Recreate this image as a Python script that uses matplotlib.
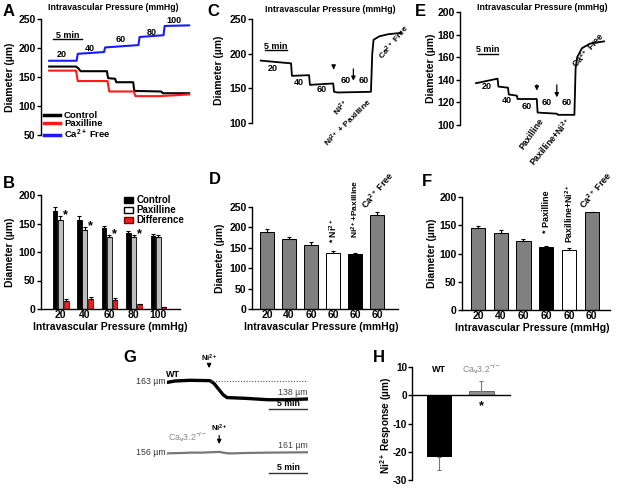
import matplotlib
matplotlib.use("Agg")
import matplotlib.pyplot as plt
from matplotlib.patches import Patch

plt.rcParams["font.family"] = ["Liberation Sans", "DejaVu Sans"]
plt.rcParams["font.weight"] = "bold"
plt.rcParams["axes.labelweight"] = "bold"
plt.rcParams["mathtext.fontset"] = "custom"
plt.rcParams["mathtext.rm"] = "Liberation Sans:bold"
plt.rcParams["mathtext.bf"] = "Liberation Sans:bold"
plt.rcParams["mathtext.it"] = "Liberation Sans:bold:italic"
plt.rcParams["mathtext.default"] = "rm"
plt.rcParams["axes.linewidth"] = 1.0
plt.rcParams["axes.unicode_minus"] = False

# ── data ──────────────────────────────────────────────────────────────────────
# A: pressure steps (time in min, diameter in um)
a_ctrl_t = [0, 4.6, 5.0, 5.4, 9.9, 10.1, 11.3, 11.5, 14.4, 14.6, 19.2, 19.5, 24]
a_ctrl_d = [168, 168, 165, 160, 160, 148, 147, 141, 141, 126, 125, 122, 122]
a_pax_t = [0, 4.6, 4.9, 10.0, 10.3, 14.5, 14.8, 19.0, 24]
a_pax_d = [161, 161, 143, 143, 125, 125, 117, 117, 120]
a_ca_t = [0, 4.7, 4.9, 9.4, 9.6, 15.3, 15.5, 19.6, 19.8, 24]
a_ca_d = [178, 178, 190, 193, 201, 205, 219, 222, 238, 239]
a_press = ["20", "40", "60", "80", "100"]
a_press_t = [2.1, 6.9, 12.2, 17.6, 21.4]
a_press_d = [188, 200, 214, 227, 248]

# B: mean diameters per pressure
b_press = ["20", "40", "60", "80", "100"]
b_ctrl = [172, 157, 142, 133, 128]
b_ctrl_err = [7, 6, 4, 4, 3]
b_pax = [157, 139, 126, 126, 126]
b_pax_err = [6, 5, 4, 4, 3]
b_diff = [14, 17, 16, 8, 3]
b_diff_err = [4, 4, 3, 1.5, 1]
b_sig = [True, True, True, True, False]

# C: trace with Ni2+ then Ni2+ + paxilline
c_t = [0, 6.9, 7.1, 11.0, 11.2, 16.5, 16.7, 17.5, 25.1, 25.4, 25.7, 27.0, 29.0, 32.0]
c_d = [190, 186, 168, 169, 155, 157, 145, 144, 145, 200, 220, 225, 228, 230]
c_press = ["20", "40", "60", "60", "60"]
c_press_t = [2.7, 8.6, 13.9, 19.3, 23.4]
c_press_d = [179, 159, 148, 161, 161]
c_arrow_t = [16.6, 21.1]
c_arrow_top = [184, 182]
c_arrow_tip = [173, 157]

# D: summary for C
d_press = ["20", "40", "60", "60", "60", "60"]
d_vals = [188, 171, 158, 137, 134, 230]
d_err = [8, 6, 5, 5, 4, 7]
d_colors = ["#808080", "#808080", "#808080", "white", "black", "#808080"]

# E: trace with paxilline then paxilline + Ni2+
e_t = [0, 5.4, 5.6, 8.0, 8.2, 10.2, 10.4, 15.2, 15.4, 20.2, 20.5, 24.6, 24.9, 25.3, 26.5, 28.5, 32]
e_d = [137, 141, 134, 133, 127, 126, 123, 123, 111, 110, 109, 109, 150, 160, 168, 172, 174]
e_press = ["20", "40", "60", "60", "60"]
e_press_t = [2.75, 7.75, 12.75, 17.75, 22.75]
e_press_d = [134, 122, 116, 119.5, 119.5]
e_arrow_t = [15.2, 20.2]
e_arrow_top = [138, 138]
e_arrow_tip = [128, 122]

# F: summary for E
f_press = ["20", "40", "60", "60", "60", "60"]
f_vals = [145, 137, 123, 111, 107, 173]
f_err = [4, 5, 2, 2, 2, 1]
f_colors = ["#808080", "#808080", "#808080", "black", "white", "#808080"]

# G: WT and Cav3.2-/- traces
g_wt_t = [0, 1, 3, 5.5, 6.0, 6.6, 7.2, 7.7, 10, 13, 15, 18]
g_wt_d = [161, 163, 164, 163.5, 160, 152, 144, 140, 139, 137, 137, 138]
g_ko_t = [0, 2, 3, 4.5, 5.5, 6.7, 7.2, 7.8, 8.5, 10, 13, 18]
g_ko_d = [155.5, 156, 156.5, 156.5, 157, 157.5, 156.5, 155.5, 155.5, 156, 156.5, 157]

# H: Ni2+ response
h_groups = ["WT", "Ca$_{\\rm v}$3.2$^{-/-}$"]
h_vals = [-22, 1.5]
h_err = [4.5, 3.5]
h_ticks = [-30, -20, -10, 0, 10]

# ── layout helpers (pixel coordinates of the 620x491 figure) ─────────────────
W, H = 620, 491
fig = plt.figure(figsize=(W / 100, H / 100), dpi=100)


def add_ax(l, t, r, b):
    return fig.add_axes([l / W, 1 - b / H, (r - l) / W, (b - t) / H])


def ftext(x, y, s, **kw):
    kw.setdefault("ha", "center")
    kw.setdefault("va", "center")
    fig.text(x / W, 1 - y / H, s, **kw)


def style(ax, bottom=False):
    for side in ["top", "right"]:
        ax.spines[side].set_visible(False)
    ax.spines["bottom"].set_visible(bottom)
    ax.tick_params(axis="y", direction="out", length=3, width=1, labelsize=7.5, pad=1)
    ax.tick_params(axis="x", length=0, labelsize=7.5, pad=1)
    if not bottom:
        ax.set_xticks([])


def arrow(ax, t, top, tip, lw=0.9):
    ax.annotate("", xy=(t, tip), xytext=(t, top), annotation_clip=False,
                arrowprops=dict(arrowstyle="-|>", lw=lw, color="k", mutation_scale=6))


# ── A ────────────────────────────────────────────────────────────────────────
ax = add_ax(41, 19, 195, 135)
style(ax)
ax.plot(a_ctrl_t, a_ctrl_d, color="black", lw=1.5, label="Control")
ax.plot(a_pax_t, a_pax_d, color="#ff1a1a", lw=1.5, label="Paxilline")
ax.plot(a_ca_t, a_ca_d, color="#1a1aff", lw=1.5, label="Ca$^{2+}$ Free")
for s, t, d in zip(a_press, a_press_t, a_press_d):
    ax.text(t, d, s, fontsize=6.5, ha="center", va="center")
ax.plot([0.7, 5.7], [215.5, 215.5], color="black", lw=1)
ax.text(3.2, 221, "5 min", fontsize=6.5, ha="center", va="center")
ax.set_xlim(-1.4, 25)
ax.set_ylim(50, 250)
ax.set_yticks([50, 100, 150, 200, 250])
ax.legend(loc="lower left", bbox_to_anchor=(0.02, -0.05), frameon=False, fontsize=6.8,
          handlelength=1.7, labelspacing=-0.08, handletextpad=0.4, borderpad=0,
          borderaxespad=0)
for h in ax.get_legend().get_lines():
    h.set_linewidth(2.5)
ftext(113, 7, "Intravascular Pressure (mmHg)", fontsize=6.3)
ftext(10, 77, "Diameter (µm)", fontsize=7.5, rotation=90)
ftext(9, 12, "A", fontsize=12)

# ── B ────────────────────────────────────────────────────────────────────────
ax = add_ax(41, 195, 180, 309)
style(ax, bottom=True)
xs = list(range(len(b_press)))
ek = dict(ecolor="black", elinewidth=0.8, capsize=1.5, capthick=0.8)
ax.bar([x - 0.21 for x in xs], b_ctrl, 0.19, yerr=[[0] * 5, b_ctrl_err], color="black",
       edgecolor="black", lw=0.6, error_kw=ek)
ax.bar([x + 0.01 for x in xs], b_pax, 0.19, yerr=[[0] * 5, b_pax_err], color="#bdbdbd",
       edgecolor="black", lw=0.6, error_kw=ek)
ax.bar([x + 0.25 for x in xs], b_diff, 0.19, yerr=[[0] * 5, b_diff_err], color="#e8201e",
       edgecolor="#8a0000", lw=0.6, error_kw=ek)
for x, v, e, s in zip(xs, b_pax, b_pax_err, b_sig):
    if s:
        ax.text(x + 0.13, v + e + 2, "*", fontsize=9, ha="left", va="center")
ax.set_xticks(xs)
ax.set_xticklabels(b_press)
ax.set_xlim(-0.78, 4.9)
ax.set_ylim(0, 200)
ax.set_yticks([0, 50, 100, 150, 200])
handles = [Patch(facecolor="black", edgecolor="black"),
           Patch(facecolor="white", edgecolor="black"),
           Patch(facecolor="#e8201e", edgecolor="#8a0000")]
ax.legend(handles, ["Control", "Paxilline", "Difference"], loc="upper left",
          bbox_to_anchor=(0.56, 1.04), frameon=False, fontsize=7, handlelength=1.0,
          handleheight=0.6, labelspacing=0.0, handletextpad=0.3, borderpad=0)
ftext(110, 327, "Intravascular Pressure (mmHg)", fontsize=7.5)
ftext(10, 252, "Diameter (µm)", fontsize=7.5, rotation=90)
ftext(9, 184, "B", fontsize=12)

# ── C ────────────────────────────────────────────────────────────────────────
ax = add_ax(252, 19, 410, 123)
style(ax)
ax.plot(c_t, c_d, color="black", lw=1.3)
for s, t, d in zip(c_press, c_press_t, c_press_d):
    ax.text(t, d, s, fontsize=6.5, ha="center", va="center")
for t, top, tip in zip(c_arrow_t, c_arrow_top, c_arrow_tip):
    arrow(ax, t, top, tip)
ax.plot([1, 6], [205, 205], color="black", lw=1)
ax.text(3.5, 211, "5 min", fontsize=6.5, ha="center", va="center")
ax.text(18.6, 137.5, "Ni$^{2+}$", fontsize=6, rotation=50, ha="right", va="top",
        rotation_mode="anchor", clip_on=False)
ax.text(24.1, 137.5, "Ni$^{2+}$ + Paxilline", fontsize=6, rotation=45, ha="right",
        va="top", rotation_mode="anchor", clip_on=False)
ax.text(28.2, 188, "Ca$^{2+}$ Free", fontsize=6, rotation=50, ha="left", va="bottom",
        rotation_mode="anchor", clip_on=False)
ax.set_xlim(-2, 34)
ax.set_ylim(100, 250)
ax.set_yticks([100, 150, 200, 250])
ftext(330, 9, "Intravascular Pressure (mmHg)", fontsize=6.3)
ftext(219, 70, "Diameter (µm)", fontsize=7.5, rotation=90)
ftext(213, 11, "C", fontsize=12)

# ── D ────────────────────────────────────────────────────────────────────────
ax = add_ax(252, 207, 398, 309)
style(ax, bottom=True)
xs = list(range(len(d_vals)))
ax.bar(xs, d_vals, 0.64, yerr=[[0] * 6, d_err], color=d_colors, edgecolor="black",
       lw=0.7, error_kw=ek)
ax.text(3, 162, "* Ni$^{2+}$", fontsize=6.3, rotation=90, ha="center", va="bottom")
ax.text(4, 174, "Ni$^{2+}$+Paxilline", fontsize=6, rotation=90, ha="center", va="bottom")
ax.text(4.6, 240, "Ca$^{2+}$ Free", fontsize=6.5, rotation=50, ha="left", va="bottom",
        rotation_mode="anchor", clip_on=False)
ax.set_xticks(xs)
ax.set_xticklabels(d_press)
ax.set_xlim(-0.68, 5.95)
ax.set_ylim(0, 250)
ax.set_yticks([0, 50, 100, 150, 200, 250])
ftext(321, 327, "Intravascular Pressure (mmHg)", fontsize=7.5)
ftext(220, 258, "Diameter (µm)", fontsize=7.5, rotation=90)
ftext(215, 180, "D", fontsize=12)

# ── E ────────────────────────────────────────────────────────────────────────
ax = add_ax(460, 12, 612, 125)
style(ax)
ax.plot(e_t, e_d, color="black", lw=1.3)
for s, t, d in zip(e_press, e_press_t, e_press_d):
    ax.text(t, d, s, fontsize=6.5, ha="center", va="center")
for t, top, tip in zip(e_arrow_t, e_arrow_top, e_arrow_tip):
    arrow(ax, t, top, tip)
ax.plot([0.5, 5.5], [162.5, 162.5], color="black", lw=1)
ax.text(3.0, 167, "5 min", fontsize=6.5, ha="center", va="center")
ax.text(15.5, 107, "Paxilline", fontsize=6.3, rotation=55, ha="right", va="top",
        rotation_mode="anchor", clip_on=False)
ax.text(22.3, 109, "Paxilline+Ni$^{2+}$", fontsize=6.3, rotation=50, ha="right",
        va="top", rotation_mode="anchor", clip_on=False)
ax.text(25.5, 149, "Ca$^{2+}$ Free", fontsize=6.3, rotation=48, ha="left", va="bottom",
        rotation_mode="anchor", clip_on=False)
ax.set_xlim(-4, 34)
ax.set_ylim(100, 200)
ax.set_yticks([100, 120, 140, 160, 180, 200])
ftext(542, 8, "Intravascular Pressure (mmHg)", fontsize=6.3)
ftext(431, 68, "Diameter (µm)", fontsize=7.5, rotation=90)
ftext(420, 12, "E", fontsize=12)

# ── F ────────────────────────────────────────────────────────────────────────
ax = add_ax(462, 197, 610, 310)
style(ax, bottom=True)
xs = list(range(len(f_vals)))
ax.bar(xs, f_vals, 0.62, yerr=[[0] * 6, f_err], color=f_colors, edgecolor="black",
       lw=0.7, error_kw=ek)
ax.text(3, 137, "* Paxilline", fontsize=6.5, rotation=90, ha="center", va="bottom")
ax.text(4, 118, "Paxilline+Ni$^{2+}$", fontsize=6.3, rotation=90, ha="center", va="bottom")
ax.text(4.75, 176, "Ca$^{2+}$ Free", fontsize=6.5, rotation=50, ha="left", va="bottom",
        rotation_mode="anchor", clip_on=False)
ax.set_xticks(xs)
ax.set_xticklabels(f_press)
ax.set_xlim(-0.7, 5.8)
ax.set_ylim(0, 200)
ax.set_yticks([0, 50, 100, 150, 200])
ftext(532, 328, "Intravascular Pressure (mmHg)", fontsize=7.5)
ftext(432, 253, "Diameter (µm)", fontsize=7.5, rotation=90)
ftext(427, 182, "F", fontsize=12)

# ── G ────────────────────────────────────────────────────────────────────────
ax = add_ax(167, 370, 308, 415)
ax.axis("off")
ax.plot(g_wt_t, g_wt_d, color="black", lw=2.4)
ax.plot([5.5, 18.1], [163, 163], color="#555555", lw=0.8, ls=(0, (1, 1.5)))
arrow(ax, 5.4, 189, 177)
ax.text(5.4, 195, "Ni$^{2+}$", fontsize=5.5, ha="center", va="center", clip_on=False)
ax.text(0.8, 172, "WT", fontsize=6.5, ha="center", va="center", clip_on=False)
ax.text(-0.2, 162, "163 µm", fontsize=6.3, ha="right", va="center", color="#333333",
        fontweight="normal", clip_on=False)
ax.text(16.2, 147, "138 µm", fontsize=6.3, ha="center", va="center", color="#444444",
        fontweight="normal", clip_on=False)
ax.plot([13.1, 18.1], [124, 124], color="#333333", lw=1)
ax.text(15.6, 132, "5 min", fontsize=6.3, ha="center", va="center", clip_on=False)
ax.set_xlim(0, 18.1)
ax.set_ylim(115.8, 178.3)

ax = add_ax(167, 420, 308, 480)
ax.axis("off")
ax.plot(g_ko_t, g_ko_d, color="#777777", lw=1.6)
arrow(ax, 6.7, 184, 164.5)
ax.text(6.7, 190.5, "Ni$^{2+}$", fontsize=5.5, ha="center", va="center", clip_on=False)
ax.text(2.6, 178, "Ca$_{\\rm v}$3.2$^{-/-}$", fontsize=6.3, ha="center", va="center",
        color="#888888", fontweight="normal", clip_on=False)
ax.text(-0.2, 156, "156 µm", fontsize=6.3, ha="right", va="center", color="#333333",
        fontweight="normal", clip_on=False)
ax.text(16.2, 167, "161 µm", fontsize=6.3, ha="center", va="center", color="#444444",
        fontweight="normal", clip_on=False)
ax.plot([13.1, 18.1], [128, 128], color="#333333", lw=1)
ax.text(15.6, 136, "5 min", fontsize=6.3, ha="center", va="center", clip_on=False)
ax.set_xlim(0, 18.1)
ax.set_ylim(118.5, 201.8)
ftext(130, 358, "G", fontsize=12)

# ── H ────────────────────────────────────────────────────────────────────────
ax = add_ax(412, 367, 510, 480)
for side in ["top", "right"]:
    ax.spines[side].set_visible(False)
ax.spines["bottom"].set_position(("data", 0))
ax.tick_params(axis="y", direction="out", length=3, width=1, labelsize=7.2, pad=0.5)
ax.set_xticks([])
ax.bar([0], [h_vals[0]], 0.6, yerr=[[h_err[0]], [0]], color="black",
       error_kw=dict(ecolor="#777777", elinewidth=0.8, capsize=1.5, capthick=0.8))
ax.bar([1], [h_vals[1]], 0.6, yerr=[[0], [h_err[1]]], color="#909090", edgecolor="#555555",
       lw=0.6, error_kw=dict(ecolor="#777777", elinewidth=0.8, capsize=1.5, capthick=0.8))
ax.text(0, 9, h_groups[0], fontsize=6.5, ha="center", va="center")
ax.text(1, 9.3, h_groups[1], fontsize=6.3, ha="center", va="center", color="#888888",
        fontweight="normal")
ax.text(1, -3.8, "*", fontsize=9, ha="center", va="center")
ax.set_xlim(-0.65, 1.68)
ax.set_ylim(-30, 10)
ax.set_yticks(h_ticks)
ax.set_yticklabels([str(v) for v in h_ticks])
ftext(386, 425, "Ni$^{2+}$ Response (µm)", fontsize=7.2, rotation=90)
ftext(379, 357, "H", fontsize=12)

fig.savefig("out.png", dpi=100)
